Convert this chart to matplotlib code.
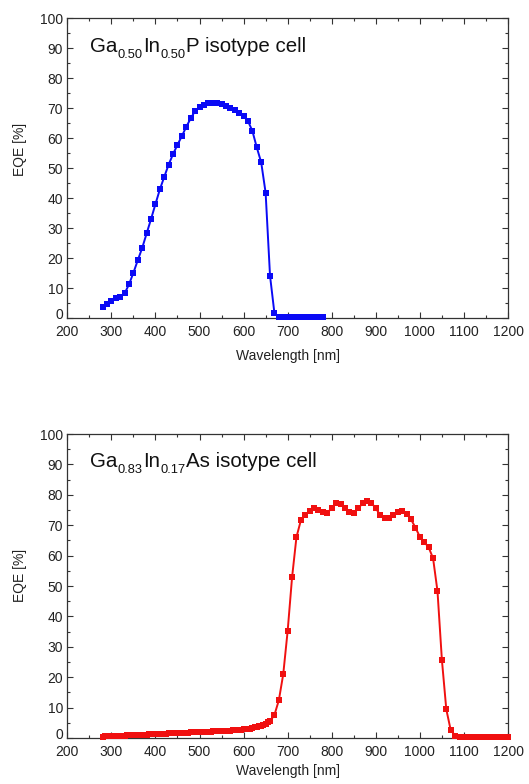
import matplotlib
matplotlib.use("Agg")
import matplotlib.pyplot as plt
from matplotlib.ticker import MultipleLocator
from matplotlib.transforms import offset_copy, ScaledTranslation

plt.rcParams['font.family'] = ['Liberation Sans', 'DejaVu Sans']

# ---- Data: GaInP isotype cell (top) ----
gainp_wl = [280, 290, 300, 310, 320, 330, 340, 350, 360, 370, 380, 390, 400,
            410, 420, 430, 440, 450, 460, 470, 480, 490, 500, 510, 520, 530,
            540, 550, 560, 570, 580, 590, 600, 610, 620, 630, 640, 650, 660,
            670, 680, 690, 700, 710, 720, 730, 740, 750, 760, 770, 780]
gainp_eqe = [3.6, 4.8, 5.8, 6.6, 7.1, 8.2, 11.2, 15.1, 19.3, 23.4, 28.2, 33.0,
             38.0, 42.9, 47.1, 51.2, 54.7, 57.8, 60.7, 63.8, 66.6, 69.1, 70.4,
             71.2, 71.8, 71.9, 71.8, 71.3, 70.8, 70.1, 69.3, 68.4, 67.3, 65.7,
             62.4, 56.9, 51.9, 41.8, 14.1, 1.6, 0.3, 0.2, 0.2, 0.2, 0.2, 0.2,
             0.2, 0.2, 0.2, 0.2, 0.2]

# ---- Data: GaInAs isotype cell (bottom) ----
gainas_wl = [280, 285, 290, 295, 300, 305, 310, 315, 320, 325, 330, 335, 340,
             345, 350, 355, 360, 365, 370, 375, 380, 385, 390, 395, 400, 405,
             410, 415, 420, 425, 430, 435, 440, 445, 450, 455, 460, 465, 470,
             475, 480, 485, 490, 495, 500, 505, 510, 515, 520, 525, 530, 535,
             540, 545, 550, 555, 560, 565, 570, 575, 580, 585, 590, 595, 600,
             605, 610, 615, 620, 625, 630, 635, 640, 645, 650, 655, 660,
             670, 680, 690, 700, 710, 720, 730, 740, 750, 760, 770, 780, 790,
             800, 810, 820, 830, 840, 850, 860, 870, 880, 890, 900, 910, 920,
             930, 940, 950, 960, 970, 980, 990, 1000, 1010, 1020, 1030, 1040,
             1050, 1060, 1070, 1080, 1090, 1100, 1110, 1120, 1130, 1140, 1150,
             1160, 1170, 1180, 1190, 1200]
gainas_eqe = [0.45, 0.5, 0.55, 0.6, 0.62, 0.65, 0.7, 0.72, 0.75, 0.8, 0.82,
              0.85, 0.9, 0.92, 0.95, 1.0, 1.02, 1.05, 1.1, 1.12, 1.15, 1.2,
              1.22, 1.25, 1.3, 1.32, 1.35, 1.4, 1.42, 1.45, 1.5, 1.52, 1.55,
              1.6, 1.62, 1.65, 1.7, 1.72, 1.75, 1.8, 1.82, 1.85, 1.9, 1.92,
              1.95, 2.0, 2.0, 2.05, 2.1, 2.1, 2.15, 2.2, 2.2, 2.25, 2.3, 2.3,
              2.35, 2.4, 2.45, 2.5, 2.55, 2.6, 2.65, 2.7, 2.8, 2.9, 3.0, 3.1,
              3.3, 3.5, 3.7, 3.9, 4.1, 4.4, 4.7, 5.1, 5.5,
              7.6, 12.4, 21.0, 35.2, 52.8, 66.1, 71.6, 73.4, 74.8, 75.6, 75.0,
              74.3, 74.1, 75.6, 77.2, 77.0, 75.5, 74.4, 73.9, 75.5, 77.2,
              78.1, 77.4, 75.5, 73.4, 72.3, 72.3, 73.3, 74.4, 74.8, 73.7,
              71.9, 69.2, 66.2, 64.5, 62.7, 59.1, 48.3, 25.7, 9.4, 2.6,
              0.8, 0.3, 0.2, 0.2, 0.2, 0.2, 0.2, 0.2, 0.2, 0.2, 0.2, 0.2, 0.2]

x_ticks = [200, 300, 400, 500, 600, 700, 800, 900, 1000, 1100, 1200]
y_ticks = [0, 10, 20, 30, 40, 50, 60, 70, 80, 90, 100]

top_title = [('Ga', 'main'), ('0.50', 'sub'), ('In', 'main'), ('0.50', 'sub'),
             ('P isotype cell', 'main')]
bottom_title = [('Ga', 'main'), ('0.83', 'sub'), ('In', 'main'), ('0.17', 'sub'),
                ('As isotype cell', 'main')]

fig = plt.figure(figsize=(5.29, 7.84), dpi=100)
W, H = 529.0, 784.0
renderer = fig.canvas.get_renderer()

def make_axes(top_px, bottom_px):
    left, right = 67.3, 508.0
    return fig.add_axes([left / W, 1 - bottom_px / H, (right - left) / W,
                         (bottom_px - top_px) / H])

def draw_title(ax, pieces, x0, y0):
    cur = 0.0
    for s, kind in pieces:
        if kind == 'main':
            size, dy = 14.8, 0.0
        else:
            size, dy = 9.3, -6.0
        tr = offset_copy(ax.transAxes, fig=fig, x=cur, y=dy, units='dots')
        t = ax.text(x0, y0, s, transform=tr, fontsize=size, color='#111111',
                    va='baseline', ha='left')
        cur += t.get_window_extent(renderer).width + (0.5 if kind == 'sub' else 0.3)

ax1 = make_axes(18.3, 318.0)
ax2 = make_axes(434.0, 738.0)

panels = [
    (ax1, gainp_wl, gainp_eqe, '#0a0af5', top_title, 0.888, -0.103, 0.563),
    (ax2, gainas_wl, gainas_eqe, '#f01010', bottom_title, 0.892, -0.085, 0.536),
]

for ax, wl, eqe, col, title, ty, xly, yly in panels:
    ax.plot(wl, eqe, color=col, lw=1.4, marker='s', ms=4.4,
            markeredgewidth=0, clip_on=False, zorder=3)
    ax.set_xlim(200, 1200)
    ax.set_ylim(0, 100)
    ax.set_xticks(x_ticks)
    ax.set_yticks(y_ticks)
    ax.xaxis.set_minor_locator(MultipleLocator(50))
    ax.yaxis.set_minor_locator(MultipleLocator(5))
    ax.tick_params(which='both', direction='in', top=True, right=True,
                   colors='#333333', labelcolor='#222222', width=0.8)
    ax.tick_params(which='major', length=4.5, labelsize=10)
    ax.tick_params(which='minor', length=2.5)
    ax.tick_params(axis='x', which='major', pad=5)
    ax.tick_params(axis='y', which='major', pad=3)
    for s in ax.spines.values():
        s.set_linewidth(0.9)
        s.set_color('#333333')
    ax.set_xlabel('Wavelength [nm]', fontsize=10, color='#222222')
    ax.set_ylabel('EQE [%]', fontsize=10, color='#222222')
    ax.xaxis.set_label_coords(0.5, xly)
    ax.yaxis.set_label_coords(-0.092, yly)
    draw_title(ax, title, 0.052, ty)
    # lift the corner "0" label slightly, as in the reference
    zero_lbl = ax.yaxis.get_major_ticks()[0].label1
    zero_lbl.set_transform(zero_lbl.get_transform() +
                           ScaledTranslation(0, 4.5 / 100, fig.dpi_scale_trans))

fig.savefig('out.png', dpi=100)
